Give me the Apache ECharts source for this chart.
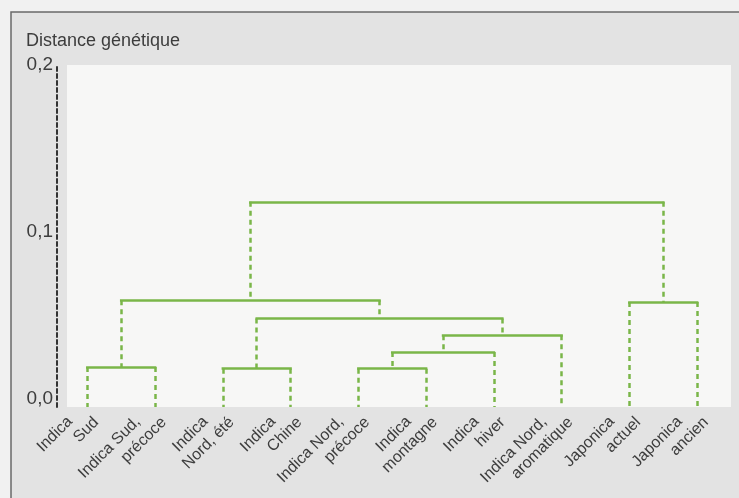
<!DOCTYPE html>
<html>
<head>
<meta charset="utf-8">
<script src="https://cdn.jsdelivr.net/npm/echarts@6/dist/echarts.min.js"></script>
<style>
html,body{margin:0;padding:0;background:#f1f1f1;}
#chart{width:739px;height:498px;}
</style>
</head>
<body>
<div id="chart"></div>
<script>
// Leaves (left to right)
const leafLines1 = ['Indica', 'Indica Sud,', 'Indica', 'Indica', 'Indica Nord,', 'Indica', 'Indica', 'Indica Nord,', 'Japonica', 'Japonica'];
const leafLines2 = ['Sud', 'précoce', 'Nord, été', 'Chine', 'précoce', 'montagne', 'hiver', 'aromatique', 'actuel', 'ancien'];
// Merges: [child A, child B, genetic distance]; leaves are 0-9, merged clusters get ids 10, 11, ...
const mergeA = [0, 2, 4, 12, 13, 11, 10, 8, 16];
const mergeB = [1, 3, 5, 6, 7, 14, 15, 9, 17];
const mergeHeight = [0.019, 0.018, 0.018, 0.028, 0.038, 0.048, 0.059, 0.058, 0.118];
const yTicks = [0, 0.1, 0.2];
const yTitle = 'Distance génétique';

const FONT = "'Liberation Sans', Arial, sans-serif";
const GREEN = '#7ab648';
const TXT = '#3d3d3d';
const Y_MIN = -0.005;

// dendrogram layout from the data
const nLeaf = leafLines1.length;
const nodeX = [], nodeH = [];
for (let i = 0; i < nLeaf; i++) { nodeX.push(i); nodeH.push(Y_MIN); }
const horiz = [], vert = [];
for (let k = 0; k < mergeA.length; k++) {
  const a = mergeA[k], b = mergeB[k], h = mergeHeight[k];
  horiz.push({coords: [[nodeX[a], h], [nodeX[b], h]]});
  vert.push({coords: [[nodeX[a], h], [nodeX[a], nodeH[a]]]});
  vert.push({coords: [[nodeX[b], h], [nodeX[b], nodeH[b]]]});
  nodeX.push((nodeX[a] + nodeX[b]) / 2);
  nodeH.push(h);
}

const chart = echarts.init(document.getElementById('chart'), null, {renderer: 'canvas'});
chart.setOption({
  backgroundColor: '#f1f1f1',
  animation: false,
  graphic: [{
    type: 'rect', z: -10, silent: true,
    shape: {x: 11, y: 12, width: 740, height: 500},
    style: {fill: '#e3e3e3', stroke: '#6a6a6a', lineWidth: 1.5}
  }],
  title: {
    text: yTitle, left: 26, top: 32, padding: 0,
    textStyle: {fontFamily: FONT, fontSize: 18, fontWeight: 'normal', color: TXT}
  },
  grid: {
    left: 67, right: 8, top: 65, bottom: 91,
    outerBoundsMode: 'none', containLabel: false,
    show: true, backgroundColor: '#f7f7f6', borderWidth: 0
  },
  xAxis: {
    type: 'value', min: -0.3, max: 9.5,
    axisLine: {show: false}, axisTick: {show: false}, splitLine: {show: false},
    axisLabel: {
      customValues: leafLines1.map((_, i) => i),
      rotate: 45, margin: 4,
      fontFamily: FONT, fontSize: 16, color: TXT,
      padding: [6, 0, 0, 0],
      formatter: v => '{a|' + leafLines1[Math.round(v)] + '}\n{b|' + leafLines2[Math.round(v)] + '}',
      rich: {
        a: {fontFamily: FONT, fontSize: 16, color: TXT, padding: [0, 18, 0, 0], lineHeight: 19},
        b: {fontFamily: FONT, fontSize: 16, color: TXT, lineHeight: 19}
      }
    }
  },
  yAxis: {
    type: 'value', min: Y_MIN, max: 0.2, offset: 10,
    axisLine: {show: true, onZero: false, lineStyle: {color: '#333', width: 2, type: [4, 3]}},
    axisTick: {show: false}, splitLine: {show: false},
    axisLabel: {
      customValues: yTicks, margin: 4,
      fontFamily: FONT, fontSize: 19, color: TXT,
      formatter: v => v.toFixed(1).replace('.', ',')
    }
  },
  series: [
    {
      type: 'lines', coordinateSystem: 'cartesian2d', silent: true,
      lineStyle: {color: GREEN, width: 2.5, type: [5, 4], opacity: 1},
      data: vert
    },
    {
      type: 'lines', coordinateSystem: 'cartesian2d', silent: true,
      lineStyle: {color: GREEN, width: 2.5, type: 'solid', opacity: 1, cap: 'square'},
      data: horiz
    }
  ]
});
</script>
</body>
</html>
